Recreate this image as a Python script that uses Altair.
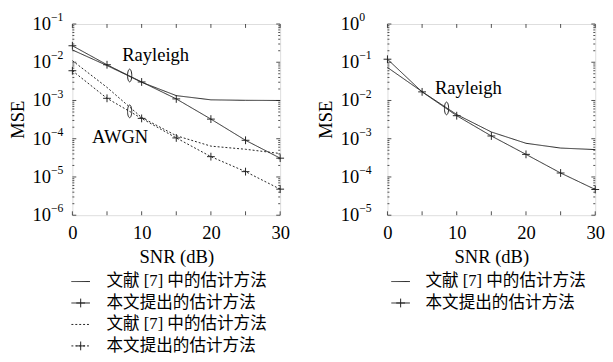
import altair as alt
import pandas as pd

# ---------------- data ----------------
snr = [0, 5, 10, 15, 20, 25, 30]

# left panel (Rayleigh / AWGN)
ray_ref_L = [0.021, 0.0082, 0.0030, 0.00134, 0.00104, 0.00101, 0.00100]
ray_prop_L = [0.027, 0.0086, 0.00305, 0.0011, 0.000326, 0.000091, 0.000031]
awgn_ref_L = [0.011, 0.0022, 0.00036, 0.00012, 0.000064, 0.000053, 0.000041]
awgn_prop_L = [0.006, 0.00114, 0.00034, 0.000105, 0.000034, 0.0000138, 0.0000048]

# right panel (Rayleigh)
ray_ref_R = [0.073, 0.017, 0.0043, 0.0015, 0.00076, 0.00057, 0.00052]
ray_prop_R = [0.12, 0.0168, 0.0040, 0.00118, 0.00039, 0.000127, 0.000047]

x_labels = [0, 10, 20, 30]
x_ticks = [0, 5, 10, 15, 20, 25, 30]
exp_L = [-1, -2, -3, -4, -5, -6]
exp_R = [0, -1, -2, -3, -4, -5]

leg_ref = "文献 [7] 中的估计方法"
leg_prop = "本文提出的估计方法"

# annotations: (text, snr, mse)
ann_L = [("Rayleigh", 7.2, 0.0155), ("AWGN", 2.85, 0.00011)]
ell_L = [(8.27, 0.0045), (8.27, 0.00052)]
ann_R = [("Rayleigh", 6.85, 0.021)]
ell_R = [(8.53, 0.0062)]

SERIF = "Liberation Serif, Noto Sans CJK SC"
W, H = 213, 196
PLUS = "M-1,0L1,0M0,-1L0,1"
ELLIPSE = "M0,-1A0.33,1 0 1,1 0,1A0.33,1 0 1,1 0,-1Z"
LINE = "#222222"


def minus(s):
    return str(s).replace("-", "\u2212")


def panel(series, dom, exps, anns, ells, label_x, legend_rows, leg_sym_x, leg_txt_x):
    ysc = alt.Scale(type="log", domain=dom, nice=False)
    xsc = alt.Scale(domain=[0, 30], nice=False)
    xaxis = alt.Axis(values=x_labels, ticks=False, domain=False, grid=False,
                     labelFont=SERIF, labelFontSize=19, labelColor="black",
                     labelPadding=9, labelFlush=False,
                     title="SNR (dB)", titleFont=SERIF, titleFontSize=19,
                     titleFontWeight="normal", titleColor="black", titlePadding=6)

    def X(field):
        return alt.X(field, scale=xsc, axis=xaxis)

    def Y(field):
        return alt.Y(field, scale=ysc, axis=None)

    layers = []
    for vals, dash, marker in series:
        df = pd.DataFrame({"snr": snr, "mse": vals})
        layers.append(alt.Chart(df).mark_line(color=LINE, strokeWidth=1,
                                              strokeDash=dash).encode(
            x=X("snr:Q"), y=Y("mse:Q")))
        if marker:
            layers.append(alt.Chart(df).mark_point(shape=PLUS, size=64, color=LINE,
                                                   strokeWidth=1, filled=False,
                                                   opacity=1).encode(
                x=X("snr:Q"), y=Y("mse:Q")))

    # tick labels 10^k
    tdf = pd.DataFrame({"v": [10.0 ** e for e in exps],
                        "e": [minus(e) for e in exps]})
    layers.append(alt.Chart(tdf).mark_text(font=SERIF, fontSize=19, align="right",
                                           baseline="middle", color="black").encode(
        x=alt.value(label_x), y=Y("v:Q"), text=alt.value("10")))
    layers.append(alt.Chart(tdf).mark_text(font=SERIF, fontSize=12, align="left",
                                           baseline="middle", dy=-7, color="black").encode(
        x=alt.value(label_x), y=Y("v:Q"), text="e:N"))

    # log minor ticks (inside, right edge and left edge)
    minors = []
    for e in exps[1:]:
        for m in range(2, 10):
            minors.append(m * 10.0 ** e)
    mdf = pd.DataFrame({"v": minors})
    majdf = pd.DataFrame({"v": [10.0 ** e for e in exps]})
    for x0, x1, d in [(W - 2, W, mdf), (W - 4, W, majdf), (0, 2, mdf), (0, 4, majdf)]:
        layers.append(alt.Chart(d).mark_rule(color=LINE, strokeWidth=0.8).encode(
            x=alt.value(x0), x2=alt.value(x1), y=Y("v:Q")))
    # x ticks inside bottom and top
    xdf = pd.DataFrame({"t": x_ticks})
    for y0, y1 in [(H - 4, H), (0, 4)]:
        layers.append(alt.Chart(xdf).mark_rule(color=LINE, strokeWidth=0.8).encode(
            x=X("t:Q"), y=alt.value(y0), y2=alt.value(y1)))

    # annotations
    adf = pd.DataFrame({"t": [a[0] for a in anns], "x": [a[1] for a in anns],
                        "y": [a[2] for a in anns]})
    layers.append(alt.Chart(adf).mark_text(font=SERIF, fontSize=19, align="left",
                                           baseline="middle", color="black").encode(
        x=X("x:Q"), y=Y("y:Q"), text="t:N"))
    edf = pd.DataFrame({"x": [e[0] for e in ells], "y": [e[1] for e in ells]})
    layers.append(alt.Chart(edf).mark_point(shape=ELLIPSE, size=169, color=LINE,
                                            strokeWidth=1, filled=False, opacity=1).encode(
        x=X("x:Q"), y=Y("y:Q")))

    # MSE title
    layers.append(alt.Chart(pd.DataFrame({"a": [0]})).mark_text(
        font=SERIF, fontSize=19, angle=270, align="center", baseline="middle",
        color="black", text="MSE").encode(x=alt.value(label_x - 34), y=alt.value(H / 2)))

    # legend
    for i, (txt, dash, marker) in enumerate(legend_rows):
        yy = H + 68 + 22 * i
        layers.append(alt.Chart(pd.DataFrame({"a": [0]})).mark_rule(
            color=LINE, strokeWidth=1, strokeDash=dash).encode(
            x=alt.value(leg_sym_x), x2=alt.value(leg_sym_x + 19), y=alt.value(yy)))
        if marker:
            layers.append(alt.Chart(pd.DataFrame({"a": [0]})).mark_point(
                shape=PLUS, size=81, color=LINE, strokeWidth=1, filled=False,
                opacity=1).encode(x=alt.value(leg_sym_x + 9.5), y=alt.value(yy)))
        layers.append(alt.Chart(pd.DataFrame({"a": [0]})).mark_text(
            font=SERIF, fontSize=17, align="left", baseline="middle",
            color="black", text=txt).encode(x=alt.value(leg_txt_x), y=alt.value(yy)))

    return alt.layer(*layers).properties(width=W, height=H)


SOLID = [1, 0]
DASH = [2, 2]

left = panel(
    [(ray_ref_L, SOLID, False), (ray_prop_L, SOLID, True),
     (awgn_ref_L, DASH, False), (awgn_prop_L, DASH, True)],
    [1e-6, 1e-1], exp_L, ann_L, ell_L, -22,
    [(leg_ref, SOLID, False), (leg_prop, SOLID, True),
     (leg_ref, DASH, False), (leg_prop, DASH, True)],
    -1, 35)

right = panel(
    [(ray_ref_R, SOLID, False), (ray_prop_R, SOLID, True)],
    [1e-5, 1.0], exp_R, ann_R, ell_R, -29,
    [(leg_ref, SOLID, False), (leg_prop, SOLID, True)],
    4, 39)

chart = alt.hconcat(left, right, spacing=27).properties(
    padding={"left": 0, "top": -2, "right": 0, "bottom": 0}
).configure_view(stroke="black", strokeWidth=1.2).configure(background="white")

chart.save("out.html", embed_options={"renderer": "svg", "actions": False})
